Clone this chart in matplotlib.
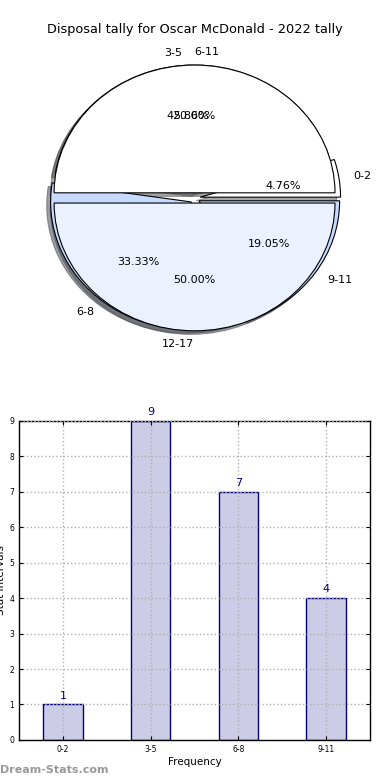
import matplotlib
matplotlib.use("Agg")
import matplotlib.pyplot as plt
import numpy as np

title = "Disposal tally for Oscar McDonald - 2022 tally"
categories = ["0-2", "3-5", "6-8", "9-11"]
counts = [1, 9, 7, 4]
outer_colors = ["white", "white", "#c6dbff", "#c6dbff"]
group_labels = ["6-11", "12-17"]
group_share = [50, 50]
group_colors = ["white", "#ebf1ff"]

fig = plt.figure(figsize=(3.9, 7.8), dpi=100)
fig.subplots_adjust(left=0.0487, right=0.949, top=0.951, bottom=0.0513, hspace=0.197)
ax1 = fig.add_subplot(2, 1, 1)
ax2 = fig.add_subplot(2, 1, 2)

wp = dict(edgecolor="black", linewidth=0.8)
ax1.pie(counts, labels=categories, colors=outer_colors, autopct="%.2f%%",
        explode=[0.04] * 4, shadow=True, wedgeprops=wp,
        textprops=dict(fontsize=8))
_, gtexts, _ = ax1.pie(group_share, labels=group_labels, colors=group_colors,
                       autopct="%.2f%%", explode=[0.04] * 2, shadow=True,
                       wedgeprops=wp, textprops=dict(fontsize=8))
gtexts[0].set_ha("left")
gtexts[1].set_ha("right")
ax1.set_aspect("auto")
ax1.set_xlim(-1.25, 1.25)
ax1.set_ylim(-1.25, 1.25)
ax1.axis("off")
fig.text(0.5, 1 - 30 / 780, title, ha="center", va="center", fontsize=9.3)

x = np.arange(len(categories))
bars = ax2.bar(x, counts, width=0.45, color="#cccce6", edgecolor="#000080",
               linewidth=1.0, zorder=1)
for xi, v in zip(x, counts):
    ax2.text(xi, v + 0.1, str(v), ha="center", va="bottom", color="#000080", fontsize=8)
ax2.set_xlim(-0.5, 3.5)
ax2.set_ylim(0, 9)
ax2.set_xticks(x)
ax2.set_xticklabels(categories)
ax2.set_yticks(range(0, 10))
ax2.tick_params(axis="both", labelsize=5.5, direction="in", top=True, right=True,
                length=3)
ax2.grid(True, linestyle=":", color="#b0b0b0", linewidth=1.0)
ax2.set_axisbelow(False)
ax2.set_xlabel("Frequency", fontsize=7.5, labelpad=2)
ax2.set_ylabel("Stat Intervals", fontsize=7.5, labelpad=2)
for s in ax2.spines.values():
    s.set_linewidth(1.0)

fig.text(0.0, 1 - 770 / 780, "Dream-Stats.com", ha="left", va="center",
         fontsize=8, color="#999999", fontweight="bold")

fig.savefig("out.png", dpi=100)
